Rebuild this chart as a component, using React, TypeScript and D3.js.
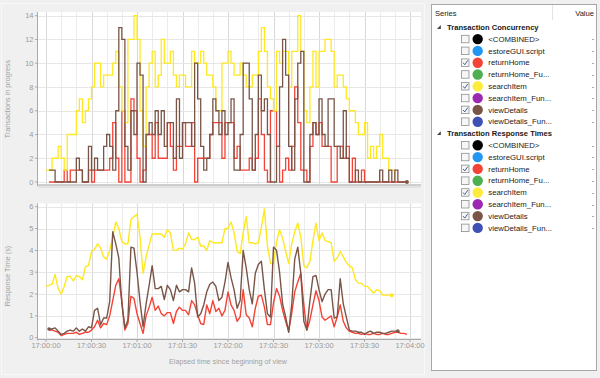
import React from "react";
import * as d3 from "d3";

// ---------- data (2-second samples starting 17:00:00) ----------
const START_UTC = Date.UTC(2020, 0, 1, 17, 0, 0);
const SAMPLE_SECONDS = 2;

// Transaction concurrency (transactions in progress)
const concReturnHome: (number | null)[] = [
  null, 0, 0, 0, 0, 0, 1, 0, 1, 1, 1, 1, 0, 0, 1, 0, 1, 1, 1, 1,
  1, 2, 5, 2, 0, 6, 0, 0, 7, 6, 2, 0, 1, 4, 4, 2, 5, 2, 2, 2,
  5, 3, 1, 3, 3, 5, 3, 3, 5, 0, 2, 2, 2, 2, 4, 5, 5, 5, 2, 5,
  5, 5, 2, 3, 1, 1, 1, 2, 1, 2, 7, 4, 1, 0, 6, 6, 3, 0, 1, 2,
  1, 3, 8, 5, 1, 1, 0, 3, 5, 4, 5, 3, 3, 3, 0, 0, 3, 3, 2, 3,
  0, 2, 0, 0, 1, 0, 0, 0, 0, 0, 0, 0, 0, 0, 0, 0, 0, 0, 0, 0,
];
const concSearchItem: (number | null)[] = [
  1, 1, 2, 2, 3, 2, 1, 4, 4, 4, 6, 7, 5, 6, 7, 8, 10, 10, 8, 9,
  9, 9, 10, 11, 8, 6, 5, 12, 12, 14, 12, 6, 3, 8, 10, 11, 8, 9, 12, 10,
  10, 11, 9, 8, 9, 9, 8, 8, 11, 10, 10, 11, 10, 9, 9, 8, 6, 6, 10, 10,
  11, 10, 9, 9, 10, 9, 8, 8, 9, 9, 11, 13, 11, 8, 7, 6, 11, 10, 11, 11,
  8, 11, 11, 14, 11, 6, 5, 8, 11, 8, 11, 11, 12, 12, 11, 8, 9, 9, 8, 7,
  6, 6, 5, 4, 4, 5, 2, 3, 2, 3, 4, 2, 2, 1, 1, 0,
];
const concViewDetails: (number | null)[] = [
  null, 1, 1, 0, 0, 0, 0, 0, 0, 0, 2, 1, 0, 0, 3, 1, 2, 1, 1, 3,
  4, 3, 1, 6, 13, 12, 3, 1, 6, 4, 10, 9, 0, 4, 5, 4, 6, 4, 6, 3,
  5, 5, 2, 7, 2, 5, 5, 5, 3, 10, 7, 3, 1, 2, 4, 7, 6, 4, 6, 4,
  5, 7, 1, 1, 4, 10, 10, 7, 1, 4, 9, 6, 7, 4, 0, 0, 3, 8, 12, 9,
  3, 1, 7, 10, 11, 0, 0, 4, 5, 4, 7, 4, 3, 7, 7, 3, 3, 2, 6, 2,
  0, 0, 1, 0, 0, 0, 0, 0, 0, 0, 1, 0, 0, 1, 0, 1, 0, 0, 0, 0,
];

// Transaction response times (s)
const respReturnHome: (number | null)[] = [
  null, 0.35, 0.35, 0.3, 0.25, 0.1, 0.15, 0.2, 0.2, 0.2, 0.25, 0.15, 0.2, 0.25, 0.25, 0.35, 0.5, 0.8, 0.45, 0.65,
  0.6, 1.0, 1.7, 2.4, 2.7, 1.7, 0.35, 0.65, 1.9, 1.8, 1.1, 0.65, 0.2, 1.0, 1.4, 1.85, 1.25, 1.45, 1.1, 1.0,
  1.15, 1.15, 0.65, 1.2, 1.4, 1.25, 1.25, 1.05, 1.7, 1.5, 1.05, 0.65, 0.6, 1.5, 1.1, 1.7, 1.2, 1.35, 1.0, 1.25,
  2.1, 1.5, 1.25, 0.75, 0.95, 2.2, 1.05, 0.9, 0.5, 1.35, 1.9, 1.95, 1.4, 0.6, 0.6, 1.6, 2.25, 1.9, 1.25, 0.75,
  0.3, 1.1, 2.1, 2.55, 2.95, 1.5, 0.35, 0.8, 1.5, 2.15, 1.7, 0.95, 0.8, 0.9, 1.0, 0.5, 0.95, 1.5, 0.75, 0.45,
  0.3, 0.25, 0.2, 0.2, 0.15, 0.2, 0.15, 0.15, 0.2, 0.15, 0.15, 0.2, 0.15, 0.15, 0.2, 0.25, 0.25, 0.2, 0.2, 0.15,
];
const respSearchItem: (number | null)[] = [
  2.35, 2.4, 2.45, 2.9, 2.25, 2.0, 2.35, 2.8, 2.8, 2.6, 2.85, 2.8, 2.65, 3.25, 3.3, 3.95, 4.05, 4.3, 4.1, 3.7,
  3.6, 4.0, 4.6, 5.3, 5.0, 4.4, 4.3, 4.3, 5.4, 5.55, 5.65, 4.6, 2.95, 3.7, 4.25, 4.75, 4.75, 4.75, 4.75, 4.6,
  4.95, 4.8, 4.0, 4.0, 4.1, 4.05, 4.3, 4.8, 4.5, 4.5, 4.6, 4.2, 4.2, 4.0, 4.45, 4.35, 4.35, 4.35, 4.35, 5.0,
  5.0, 5.3, 4.8, 3.95, 3.85, 4.8, 5.55, 4.35, 4.35, 4.3, 4.35, 5.05, 5.9, 4.2, 3.4, 3.4, 4.4, 4.95, 4.55, 3.95,
  3.4, 4.3, 4.85, 5.25, 4.6, 3.3, 3.2, 3.5, 4.45, 5.25, 4.45, 4.8, 4.45, 4.4, 4.35, 3.5, 3.65, 3.95, 3.7, 3.45,
  3.3, 3.2, 2.65, 2.5, 2.5, 2.35, 2.35, 2.2, 2.05, 2.2, 2.15, 1.95, 1.95, 1.95, 1.95,
];
const respViewDetails: (number | null)[] = [
  null, 0.4, 0.4, 0.45, 0.3, 0.15, 0.2, 0.3, 0.35, 0.3, 0.45, 0.3, 0.4, 0.3, 0.5, 0.45, 1.25, 1.35, 0.6, 0.9,
  0.9, 1.65, 4.85, 4.3, 3.65, 1.55, 0.45, 0.8, 4.15, 4.1, 3.0, 1.65, 0.5, 1.55, 2.4, 3.3, 2.25, 2.25, 2.35, 1.75,
  2.4, 2.2, 1.7, 2.4, 2.1, 2.2, 2.2, 2.1, 3.2, 2.5, 0.95, 1.1, 1.5, 2.1, 2.45, 2.55, 2.35, 1.7, 1.85, 2.55,
  3.45, 2.75, 2.2, 1.35, 1.7, 4.0, 3.2, 2.2, 1.55, 2.95, 3.35, 3.5, 2.2, 1.1, 0.95, 4.15, 4.0, 3.0, 1.55, 0.95,
  0.25, 1.5, 3.6, 4.15, 2.95, 0.75, 0.35, 1.7, 2.8, 2.85, 2.2, 1.65, 2.0, 2.2, 2.2, 0.9, 0.95, 2.7, 1.55, 0.95,
  0.35, 0.3, 0.3, 0.25, 0.25, 0.15, 0.25, 0.3, 0.2, 0.25, 0.25, 0.2, 0.2, 0.25, 0.3, 0.3, 0.3,
];

const concTicks = [0, 2, 4, 6, 8, 10, 12, 14];
const respTicks = [0, 1, 2, 3, 4, 5, 6];

// legend
const legendGroups = ["Transaction Concurrency", "Transaction Response Times"];
const legendNames = [
  "<COMBINED>",
  "estoreGUI.script",
  "returnHome",
  "returnHome_Fu...",
  "searchItem",
  "searchItem_Fun...",
  "viewDetails",
  "viewDetails_Fun...",
];
const legendColors = ["#000000", "#2196f3", "#f44336", "#4caf50", "#ffeb3b", "#9c27b0", "#795548", "#3f51b5"];
const legendChecked = [false, false, true, false, true, false, true, false];

const RED = "#f44336";
const YELLOW = "#ffe81f";
const BROWN = "#795548";
const FONT = "'Liberation Sans', Arial, sans-serif";

type Pt = { t: Date; v: number };
const toPoints = (arr: (number | null)[]): Pt[] =>
  arr
    .map((v, i) => (v == null ? null : { t: new Date(START_UTC + i * SAMPLE_SECONDS * 1000), v }))
    .filter((p): p is Pt => p !== null);

export default function App() {
  const x = d3
    .scaleUtc()
    .domain([new Date(START_UTC), new Date(START_UTC + 240000)])
    .range([46, 410]);
  const yTop = d3.scaleLinear().domain([0, 14]).range([182, 15.7]);
  const yBot = d3.scaleLinear().domain([0, 6]).range([337.7, 206.7]);

  const plotL = 38;
  const plotR = 421;
  const topT = 12;
  const topB = 184.5;
  const botT = 203.5;
  const botB = 339.5;

  const minorTicks = x.ticks(d3.utcSecond.every(10) as any);
  const majorTicks = x.ticks(d3.utcSecond.every(30) as any);
  const fmt = d3.utcFormat("%H:%M:%S");

  const stepLine = d3
    .line<Pt>()
    .x((d) => x(d.t))
    .y((d) => yTop(d.v))
    .curve(d3.curveStepAfter);
  const rLine = d3
    .line<Pt>()
    .x((d) => x(d.t))
    .y((d) => yBot(d.v));

  const cRed = toPoints(concReturnHome);
  const cYel = toPoints(concSearchItem);
  const cBrn = toPoints(concViewDetails);
  const rRed = toPoints(respReturnHome);
  const rYel = toPoints(respSearchItem);
  const rBrn = toPoints(respViewDetails);

  const isMajor = (d: Date) => d.getUTCSeconds() % 30 === 0;

  const grid = (top: number, bottom: number, yScale: d3.ScaleLinear<number, number>, ticks: number[]) => (
    <g>
      {minorTicks.map((d, i) => (
        <line
          key={"v" + i}
          x1={Math.round(x(d)) + 0.5}
          x2={Math.round(x(d)) + 0.5}
          y1={top}
          y2={bottom}
          stroke={isMajor(d) ? "#d9d9d9" : "#ececec"}
          strokeWidth={1}
        />
      ))}
      {ticks.map((v) => (
        <line
          key={"h" + v}
          x1={plotL}
          x2={plotR}
          y1={Math.round(yScale(v)) + 0.5}
          y2={Math.round(yScale(v)) + 0.5}
          stroke="#e6e6e6"
          strokeWidth={1}
        />
      ))}
    </g>
  );

  const rowY = (k: number) => 27.3 + k * 11.8;
  const legendRows: React.ReactNode[] = [];
  legendGroups.forEach((g, gi) => {
    const base = gi * 9;
    const gy = rowY(base);
    legendRows.push(
      <g key={"g" + gi}>
        <path d={`M440.8,${gy - 2.2} L440.8,${gy + 1.6} L437,${gy + 1.6} Z`} fill="#404040" />
        <text x={447} y={gy + 2.6} fontSize={7.6} fontWeight="bold" fill="#1a1a1a" fontFamily={FONT}>
          {g}
        </text>
      </g>
    );
    legendNames.forEach((name, ni) => {
      const cy = rowY(base + 1 + ni);
      legendRows.push(
        <g key={"r" + gi + "-" + ni}>
          <rect x={461.5} y={cy - 3.8} width={7.5} height={7.5} fill="#f6f6f6" stroke="#8e8f8f" strokeWidth={0.8} />
          {legendChecked[ni] && (
            <path
              d={`M463,${cy} L464.8,${cy + 2} L467.8,${cy - 2.4}`}
              fill="none"
              stroke="#3b4f80"
              strokeWidth={0.9}
            />
          )}
          <circle cx={477.7} cy={cy} r={5.2} fill={legendColors[ni]} />
          <text x={488.3} y={cy + 2.7} fontSize={7.8} fill="#222" fontFamily={FONT}>
            {name}
          </text>
          <text x={594} y={cy + 2.3} fontSize={7} fill="#555" textAnchor="end" fontFamily={FONT}>
            -
          </text>
        </g>
      );
    });
  });

  return (
    <svg
      width={600}
      height={378}
      style={{ position: "absolute", left: 0, top: 0, display: "block" }}
      fontFamily={FONT}
    >
      <rect x={0} y={0} width={600} height={378} fill="#f0f0f0" />
      <rect x={1.5} y={3.5} width={423} height={371} fill="none" stroke="#f8f8f8" />

      {/* ---------- top chart ---------- */}
      <rect x={plotL} y={topT} width={plotR - plotL} height={topB - topT} fill="#ffffff" />
      {grid(topT, topB, yTop, concTicks)}
      <g clipPath="url(#clipTop)">
        <path d={stepLine(cRed) || ""} fill="none" stroke={RED} strokeWidth={1.3} />
        <path d={stepLine(cYel) || ""} fill="none" stroke={YELLOW} strokeWidth={1.3} />
        <path d={stepLine(cBrn) || ""} fill="none" stroke={BROWN} strokeWidth={1.3} />
      </g>
      <circle cx={x(cBrn[cBrn.length - 1].t)} cy={yTop(cBrn[cBrn.length - 1].v)} r={2} fill={BROWN} />
      <line x1={37.5} x2={37.5} y1={topT} y2={186} stroke="#a9a9a9" />
      <line x1={37.5} x2={plotR} y1={185} y2={185} stroke="#a9a9a9" />
      <line x1={37.5} x2={plotR} y1={187} y2={187} stroke="#d4d4d4" />
      {concTicks.map((v) => (
        <g key={"ty" + v}>
          <line x1={35} x2={37.5} y1={yTop(v)} y2={yTop(v)} stroke="#a9a9a9" />
          <text x={33.5} y={yTop(v) + 2.6} fontSize={7.5} fill="#9a9a9a" textAnchor="end">
            {v}
          </text>
        </g>
      ))}
      <text
        transform={`translate(9.5,${99}) rotate(-90)`}
        fontSize={7.2}
        fill="#a0a0a0"
        textAnchor="middle"
      >
        Transactions in progress
      </text>

      {/* ---------- bottom chart ---------- */}
      <rect x={plotL} y={botT} width={plotR - plotL} height={botB - botT} fill="#ffffff" />
      {grid(botT, botB, yBot, respTicks)}
      <path d={rLine(rRed) || ""} fill="none" stroke={RED} strokeWidth={1.4} strokeLinejoin="round" />
      <path d={rLine(rYel) || ""} fill="none" stroke={YELLOW} strokeWidth={1.4} strokeLinejoin="round" />
      <path d={rLine(rBrn) || ""} fill="none" stroke={BROWN} strokeWidth={1.4} strokeLinejoin="round" />
      <circle cx={x(rYel[rYel.length - 1].t)} cy={yBot(rYel[rYel.length - 1].v)} r={2} fill={YELLOW} />
      <circle cx={x(rBrn[0].t)} cy={yBot(rBrn[0].v)} r={1.8} fill={BROWN} />
      <circle cx={x(rBrn[rBrn.length - 1].t)} cy={yBot(rBrn[rBrn.length - 1].v)} r={1.8} fill={BROWN} />
      <line x1={37.5} x2={37.5} y1={botT} y2={botB + 1} stroke="#a9a9a9" />
      <line x1={37.5} x2={plotR} y1={botB} y2={botB} stroke="#a9a9a9" />
      {respTicks.map((v) => (
        <g key={"by" + v}>
          <line x1={35} x2={37.5} y1={yBot(v)} y2={yBot(v)} stroke="#a9a9a9" />
          <text x={33.5} y={yBot(v) + 2.6} fontSize={7.5} fill="#9a9a9a" textAnchor="end">
            {v}
          </text>
        </g>
      ))}
      {majorTicks.map((d, i) => (
        <g key={"bx" + i}>
          <line x1={x(d)} x2={x(d)} y1={botB} y2={botB + 2.5} stroke="#a9a9a9" />
          <text x={x(d)} y={348} fontSize={7.5} fill="#9a9a9a" textAnchor="middle">
            {fmt(d)}
          </text>
        </g>
      ))}
      <text
        transform={`translate(9.5,${276}) rotate(-90)`}
        fontSize={7.2}
        fill="#a0a0a0"
        textAnchor="middle"
      >
        Response Time (s)
      </text>
      <text x={228} y={364} fontSize={7.2} fill="#a0a0a0" textAnchor="middle">
        Elapsed time since beginning of view
      </text>

      {/* ---------- legend ---------- */}
      <rect x={431.5} y={4.5} width={165} height={366} fill="#ffffff" stroke="#a7a7ab" />
      <line x1={552.5} x2={552.5} y1={5} y2={20} stroke="#e4e4e4" />
      <text x={435} y={16.3} fontSize={7.6} fill="#222">
        Series
      </text>
      <text x={594} y={16.3} fontSize={7.6} fill="#222" textAnchor="end">
        Value
      </text>
      {legendRows}

      <defs>
        <clipPath id="clipTop">
          <rect x={plotL} y={topT} width={plotR - plotL} height={topB - topT + 2} />
        </clipPath>
      </defs>
    </svg>
  );
}
